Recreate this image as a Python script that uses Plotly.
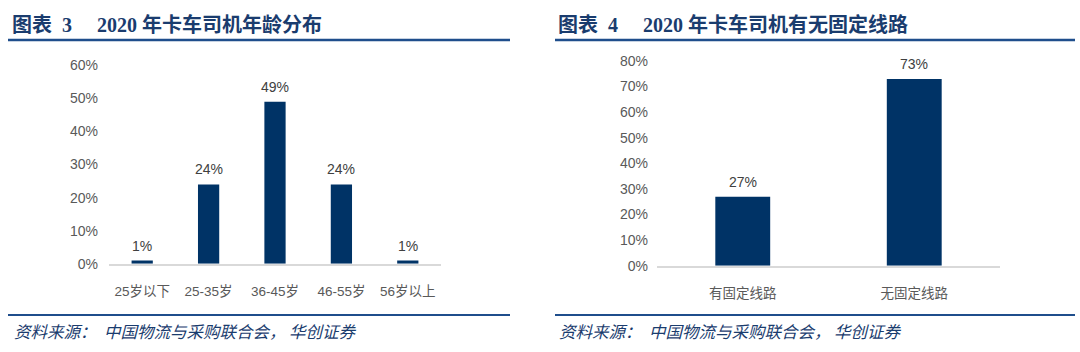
import plotly.graph_objects as go

# Data
age_groups = ["25岁以下", "25-35岁", "36-45岁", "46-55岁", "56岁以上"]
age_share = [0.01, 0.24, 0.49, 0.24, 0.01]
route_types = ["有固定线路", "无固定线路"]
route_share = [0.27, 0.73]
left_ticks = [0, 0.1, 0.2, 0.3, 0.4, 0.5, 0.6]
right_ticks = [0, 0.1, 0.2, 0.3, 0.4, 0.5, 0.6, 0.7, 0.8]
left_title = "图表\u00a0\u00a03\u00a0\u00a0\u00a0\u00a0\u00a02020\u00a0年卡车司机年龄分布"
right_title = "图表\u00a0\u00a04\u00a0\u00a0\u00a0\u00a0\u00a02020\u00a0年卡车司机有无固定线路"
source_text = "资料来源：\u00a0\u00a0中国物流与采购联合会，\u00a0华创证券"

W, H = 1080, 352
BAR = "#003366"
NAVY = "#1A3C6E"
LINE = "#1F4E8C"
SANS = "Liberation Sans, Arial, Noto Sans CJK SC"
SERIF = "Liberation Serif, Times New Roman, Noto Sans CJK SC"

def px(x):
    return x / W

def py(y):
    return 1 - y / H

fig = go.Figure()
fig.add_trace(go.Bar(x=age_groups, y=age_share, marker=dict(color=BAR, line=dict(width=0)),
                     xaxis="x", yaxis="y", showlegend=False))
fig.add_trace(go.Bar(x=route_types, y=route_share, marker=dict(color=BAR, line=dict(width=0)),
                     xaxis="x2", yaxis="y2", showlegend=False))

axis_common = dict(showgrid=False, zeroline=False, fixedrange=True)
fig.update_layout(
    width=W, height=H, margin=dict(l=0, r=0, t=0, b=0),
    paper_bgcolor="white", plot_bgcolor="white",
    bargap=0.68,
    xaxis=dict(domain=[px(109), px(441)], anchor="y", showline=True, linecolor="#D9D9D9", linewidth=1.5,
               ticks="", ticklabelstandoff=14,
               tickfont=dict(size=13.5, color="#595959", family=SANS), **axis_common),
    yaxis=dict(domain=[py(268), py(60)], anchor="x", range=[0, 0.6], tickvals=left_ticks,
               tickformat=".0%", showline=False, ticks="", ticklabelstandoff=10,
               tickfont=dict(size=14, color="#595959", family=SANS), **axis_common),
    xaxis2=dict(domain=[px(657), px(1000)], anchor="y2", showline=True, linecolor="#D9D9D9", linewidth=1.5,
                ticks="", ticklabelstandoff=14,
                tickfont=dict(size=13.5, color="#595959", family=SANS), **axis_common),
    yaxis2=dict(domain=[py(270), py(55.5)], anchor="x2", range=[0, 0.8], tickvals=right_ticks,
                tickformat=".0%", showline=False, ticks="", ticklabelstandoff=8,
                tickfont=dict(size=14, color="#595959", family=SANS), **axis_common),
)

shapes = []
for x0, x1 in [(8, 510), (555, 1075)]:
    shapes.append(dict(type="line", xref="paper", yref="paper", x0=px(x0), x1=px(x1),
                       y0=py(33.5), y1=py(33.5), line=dict(color=LINE, width=2.5)))
    shapes.append(dict(type="line", xref="paper", yref="paper", x0=px(x0), x1=px(x1),
                       y0=py(321.5), y1=py(321.5), line=dict(color=LINE, width=2)))
fig.update_layout(shapes=shapes)

annotations = []
# value labels (data-driven positions)
for cats, vals, xr, yr, shift in [(age_groups, age_share, "x", "y", 15),
                                  (route_types, route_share, "x2", "y2", 15)]:
    for c, v in zip(cats, vals):
        annotations.append(dict(text=f"{v:.0%}", x=c, y=v, xref=xr, yref=yr, yshift=shift,
                                xanchor="center", yanchor="middle", showarrow=False,
                                font=dict(size=14, color="#404040", family=SANS)))
for x0, t in [(10, left_title), (556, right_title)]:
    annotations.append(dict(text="<b>" + t + "</b>", xref="paper", yref="paper", x=px(x0), y=py(17),
                            xanchor="left", yanchor="middle", showarrow=False,
                            font=dict(size=20, color=NAVY, family=SERIF)))
for x0 in [12, 557]:
    annotations.append(dict(text="<i>" + source_text + "</i>", xref="paper", yref="paper", x=px(x0), y=py(338),
                            xanchor="left", yanchor="middle", showarrow=False,
                            font=dict(size=16.5, color=NAVY, family="Noto Sans CJK SC")))
fig.update_layout(annotations=annotations)

fig.write_html("out.html",
               post_script="document.body.style.margin='0';document.body.style.overflow='hidden';")
